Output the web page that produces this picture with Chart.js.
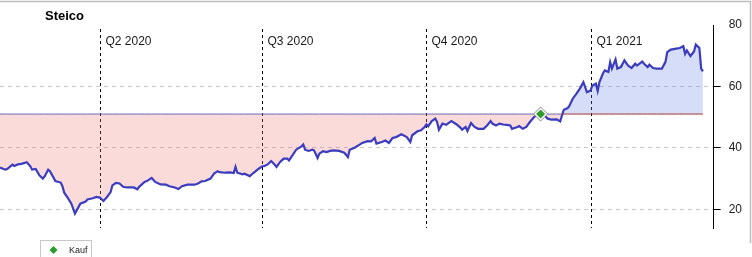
<!DOCTYPE html>
<html>
<head>
<meta charset="utf-8">
<script src="https://cdn.jsdelivr.net/npm/chart.js@4.4.1/dist/chart.umd.min.js"></script>
<style>
  html, body { margin: 0; padding: 0; background: #fff; }
</style>
</head>
<body>
<canvas id="chart" width="752" height="257"></canvas>
<script>
// Steico share price, x = days since 2020-01-01
const days = [
  35, 38, 39, 42, 43, 45, 47, 50, 52, 53, 55, 57, 59, 60, 62, 63, 65, 66, 69, 70,
  71, 73, 75, 77, 79, 80, 83, 84, 87, 89, 91, 93, 95, 97, 98, 100, 102, 104, 106, 110,
  112, 113, 116, 118, 120, 122, 125, 128, 130, 133, 135, 137, 140, 144, 146, 148, 150, 153, 155, 157,
  158, 161, 164, 166, 167, 168, 171, 172, 175, 177, 180, 182, 183, 185, 187, 189, 190, 192, 194, 196,
  197, 199, 201, 204, 205, 206, 208, 210, 211, 213, 214, 216, 218, 220, 222, 225, 228, 230, 231, 234,
  237, 238, 241, 243, 245, 246, 249, 251, 253, 255, 257, 260, 263, 265, 266, 269, 271, 273, 274, 275,
  277, 279, 280, 281, 283, 285, 288, 291, 293, 294, 296, 297, 299, 301, 303, 306, 308, 310, 311, 313,
  315, 317, 319, 321, 322, 325, 326, 328, 330, 332, 334, 336, 338, 340, 342, 344, 347, 349, 350, 351,
  353, 354, 356, 358, 360, 362, 364, 366, 367, 369, 370, 371, 373, 374, 376, 377, 378, 380, 381, 383,
  385, 387, 389, 391, 392, 395, 396, 398, 399, 401, 403, 406, 408, 409, 411, 414, 416, 418, 419, 420,
  422, 424, 425, 427, 428, 429
];
const prices = [
  33.6, 32.9, 33.1, 34.5, 34.1, 34.6, 34.8, 35.3, 34.0, 32.9, 33.1, 31.1, 30.0, 30.7, 32.9, 32.4, 30.3, 29.2, 28.7, 27.5,
  25.4, 23.7, 21.8, 18.6, 20.7, 21.8, 22.5, 23.2, 23.6, 24.0, 23.8, 22.7, 24.0, 25.6, 27.8, 28.6, 28.4, 27.3, 27.1, 27.1,
  26.5, 27.3, 28.9, 29.4, 30.2, 28.9, 28.1, 28.0, 27.5, 27.1, 26.6, 27.5, 28.0, 28.0, 28.4, 29.1, 29.2, 30.0, 31.6, 32.4,
  32.1, 31.9, 32.0, 31.8, 33.8, 31.9, 31.4, 31.6, 30.8, 31.8, 33.2, 34.0, 34.0, 34.6, 35.7, 34.5, 33.8, 35.4, 36.5, 36.5,
  35.9, 37.6, 39.4, 40.5, 41.1, 39.4, 39.0, 39.4, 39.2, 36.7, 38.1, 38.9, 38.6, 39.0, 39.2, 39.0, 38.4, 37.0, 39.4, 40.1,
  41.2, 41.6, 42.2, 42.1, 43.2, 41.4, 41.9, 42.4, 41.6, 43.2, 43.5, 44.4, 43.5, 41.9, 44.1, 45.4, 45.7, 46.8, 47.6, 47.0,
  48.7, 49.5, 48.4, 45.9, 47.9, 47.5, 48.7, 47.6, 46.6, 45.9, 46.8, 45.5, 48.1, 46.8, 46.2, 46.2, 47.3, 48.7, 47.9, 47.3,
  47.9, 47.6, 47.5, 47.3, 46.2, 46.8, 47.1, 46.2, 46.8, 48.4, 49.8, 50.9, 51.2, 50.6, 49.5, 49.2, 49.3, 48.6, 50.6, 52.4,
  52.9, 53.5, 56.0, 57.6, 59.3, 61.4, 58.1, 58.7, 60.3, 60.9, 58.5, 61.4, 64.3, 65.2, 64.7, 67.9, 65.8, 68.8, 65.8, 66.3,
  68.5, 66.8, 66.0, 67.4, 66.8, 68.1, 67.4, 66.3, 67.1, 66.0, 65.8, 65.8, 68.0, 71.2, 72.0, 72.3, 72.5, 73.1, 70.6, 71.7,
  69.9, 71.4, 73.6, 72.5, 65.8, 64.9
];
const buyDay = 338;
const buyPrice = 51;
const buyLabel = 'Kauf';
const quarterDays = [91, 182, 274, 366];
const quarterLabels = ['Q2 2020', 'Q3 2020', 'Q4 2020', 'Q1 2021'];
const yTicks = [20, 40, 60, 80];
const title = 'Steico';

const green = '#2c9c2c';

const decor = {
  id: 'decor',
  beforeDatasetsDraw(chart) {
    const { ctx, chartArea, scales } = chart;
    ctx.save();
    ctx.strokeStyle = '#000';
    ctx.lineWidth = 1;
    ctx.setLineDash([3, 3]);
    ctx.font = '12px "Liberation Sans", Arial, sans-serif';
    ctx.fillStyle = '#1a1a1a';
    ctx.textBaseline = 'middle';
    quarterDays.forEach((d, i) => {
      const x = Math.round(scales.x.getPixelForValue(d)) + 0.5;
      ctx.beginPath();
      ctx.moveTo(x, chartArea.top + 4);
      ctx.lineTo(x, chartArea.bottom);
      ctx.stroke();
      ctx.fillText(quarterLabels[i], x + 5, 42);
    });
    ctx.restore();
  },
  afterDraw(chart) {
    const { ctx } = chart;
    ctx.save();
    // frame
    ctx.strokeStyle = '#bdbdbd';
    ctx.lineWidth = 1.5;
    ctx.beginPath();
    ctx.moveTo(0, 1.5);
    ctx.lineTo(750.5, 1.5);
    ctx.lineTo(750.5, 243);
    ctx.stroke();
    // title
    ctx.fillStyle = '#000';
    ctx.font = 'bold 13px "Liberation Sans", Arial, sans-serif';
    ctx.textBaseline = 'middle';
    ctx.fillText(title, 45, 16.5);
    // legend
    ctx.strokeStyle = '#c8c8c8';
    ctx.lineWidth = 1;
    ctx.strokeRect(40.5, 240.5, 51, 22);
    ctx.fillStyle = green;
    ctx.beginPath();
    ctx.moveTo(53.5, 246);
    ctx.lineTo(57.5, 250);
    ctx.lineTo(53.5, 254);
    ctx.lineTo(49.5, 250);
    ctx.closePath();
    ctx.fill();
    ctx.fillStyle = '#222';
    ctx.font = '9px "Liberation Sans", Arial, sans-serif';
    ctx.fillText(buyLabel, 69, 250.5);
    ctx.restore();
  }
};

new Chart(document.getElementById('chart'), {
  type: 'line',
  data: {
    datasets: [
      {
        label: title,
        data: days.map((d, i) => ({ x: d, y: prices[i] })),
        borderColor: '#3c3cbe',
        borderWidth: 2.2,
        pointRadius: 0,
        tension: 0,
        fill: {
          target: { value: buyPrice },
          above: 'rgba(100, 130, 230, 0.27)',
          below: 'rgba(240, 120, 120, 0.27)'
        },
        order: 2
      },
      {
        label: 'Kaufkurs',
        data: days.map(d => ({ x: d, y: buyPrice })),
        borderWidth: 1,
        pointRadius: 0,
        fill: false,
        segment: {
          borderColor: c => prices[c.p1DataIndex] > buyPrice ? '#a33434' : '#6a6ab4'
        },
        order: 1
      },
      {
        label: buyLabel,
        data: [{ x: buyDay, y: buyPrice }],
        showLine: false,
        pointStyle: 'rectRot',
        pointRadius: 5.5,
        pointBackgroundColor: green,
        pointBorderColor: '#fff',
        pointBorderWidth: 1.5,
        order: 0
      },
      {
        label: '',
        data: [{ x: buyDay, y: buyPrice }],
        showLine: false,
        pointStyle: 'rectRot',
        pointRadius: 7.5,
        pointBackgroundColor: '#8a8a8a',
        pointBorderWidth: 0,
        order: 0
      }
    ]
  },
  options: {
    responsive: false,
    animation: false,
    devicePixelRatio: 1,
    layout: { autoPadding: false, padding: { top: 25, bottom: 29, left: 0, right: 2 } },
    plugins: {
      legend: { display: false },
      tooltip: { enabled: false }
    },
    scales: {
      x: { type: 'linear', min: 35, max: 435, display: false },
      y: {
        position: 'right',
        min: 13.9,
        max: 80,
        afterBuildTicks: s => { s.ticks = yTicks.map(v => ({ value: v })); },
        grid: {
          color: c => c.tick && c.tick.value === 80 ? 'rgba(0,0,0,0)' : '#c8c8c8',
          tickColor: c => c.tick && c.tick.value === 80 ? 'rgba(0,0,0,0)' : '#000',
          tickLength: 7,
          tickBorderDash: []
        },
        border: { display: true, color: '#000', width: 1, dash: [4, 4] },
        ticks: {
          padding: 8,
          color: '#222',
          font: { family: '"Liberation Sans", Arial, sans-serif', size: 12 }
        }
      }
    }
  },
  plugins: [decor]
});
</script>
</body>
</html>
